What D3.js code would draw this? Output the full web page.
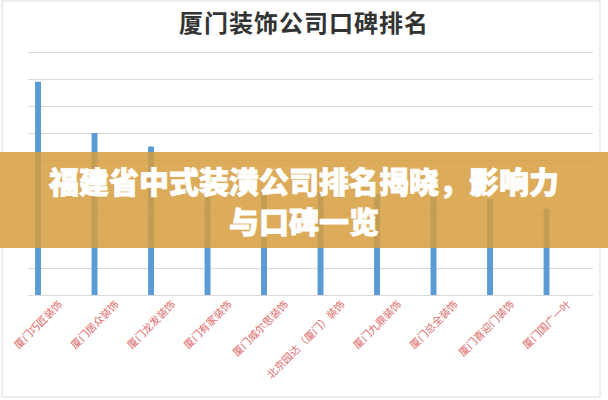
<!DOCTYPE html>
<html><head><meta charset="utf-8">
<script src="https://cdn.jsdelivr.net/npm/d3@7/dist/d3.min.js"></script>
<style>
html,body{margin:0;padding:0;background:#fff;}
svg{display:block;}
</style></head>
<body>
<svg id="c" width="608" height="400"></svg>
<script>
const title = "厦门装饰公司口碑排名";
const categories = ["厦门巧匠装饰","厦门居众装饰","厦门龙发装饰","厦门有家装饰","厦门威尔思装饰","北京园达（厦门）装饰","厦门九鼎装饰","厦门总全装饰","厦门喜迎门装饰","厦门国广一叶"];
const values = [7.9, 6.0, 5.5, 3.85, 3.85, 3.8, 3.72, 3.65, 3.55, 3.2];
const yTicks = [0,1,2,3,4,5,6,7,8,9];
const bannerLines = ["福建省中式装潢公司排名揭晓，影响力","与口碑一览"];

const svg = d3.select("#c");
const W = 608, H = 400;
const m = {left:28, right:15, top:52, bottom:105};

svg.append("rect").attr("x",2).attr("y",1).attr("width",598).attr("height",396)
  .attr("fill","#fff").attr("stroke","#dcdcdc");

svg.append("text").attr("x",304).attr("y",32).attr("text-anchor","middle")
  .attr("font-family","'Noto Sans CJK SC'").attr("font-size",24).attr("font-weight",700)
  .attr("fill","#333").attr("letter-spacing",1).text(title);

const x = d3.scaleBand().domain(categories).range([m.left, W - m.right]).padding(0);
const y = d3.scaleLinear().domain([0,9]).range([H - m.bottom, m.top]);

const grid = svg.append("g").attr("transform",`translate(${m.left},0)`)
  .call(d3.axisLeft(y).tickValues(yTicks).tickSize(-(W - m.right - m.left)).tickFormat(""));
grid.select(".domain").remove();
grid.selectAll("line").attr("stroke","#d9d9d9").attr("stroke-width",1);

const bw = x.bandwidth();
svg.append("g").selectAll("rect").data(values).join("rect")
  .attr("x",(d,i)=>x(categories[i]) + bw*0.125)
  .attr("width", bw*0.105)
  .attr("y", d=>y(d))
  .attr("height", d=>y(0)-y(d))
  .attr("fill","#5b9bd5");

const xa = svg.append("g").attr("transform",`translate(0,${y(0)})`)
  .call(d3.axisBottom(x).tickSize(0).tickPadding(0));
xa.select(".domain").remove();
xa.selectAll("text")
  .attr("font-family","'Noto Sans CJK SC'").attr("font-size",10.5)
  .attr("fill","#dd6b6b").attr("text-anchor","end")
  .attr("dy",0).attr("y",0)
  .attr("transform","translate(7,10) rotate(-45)");

svg.append("rect").attr("x",0).attr("y",152).attr("width",W).attr("height",96)
  .attr("fill","rgb(214,158,62)").attr("opacity",0.85);

svg.append("g").selectAll("text").data(bannerLines).join("text")
  .attr("x",304).attr("y",(d,i)=>193 + i*40)
  .attr("text-anchor","middle")
  .attr("font-family","'Noto Sans CJK SC'").attr("font-size",30).attr("font-weight",900)
  .attr("fill","#fff").attr("stroke","#fff").attr("stroke-width",0.8)
  .text(d=>d);
</script>
</body></html>
